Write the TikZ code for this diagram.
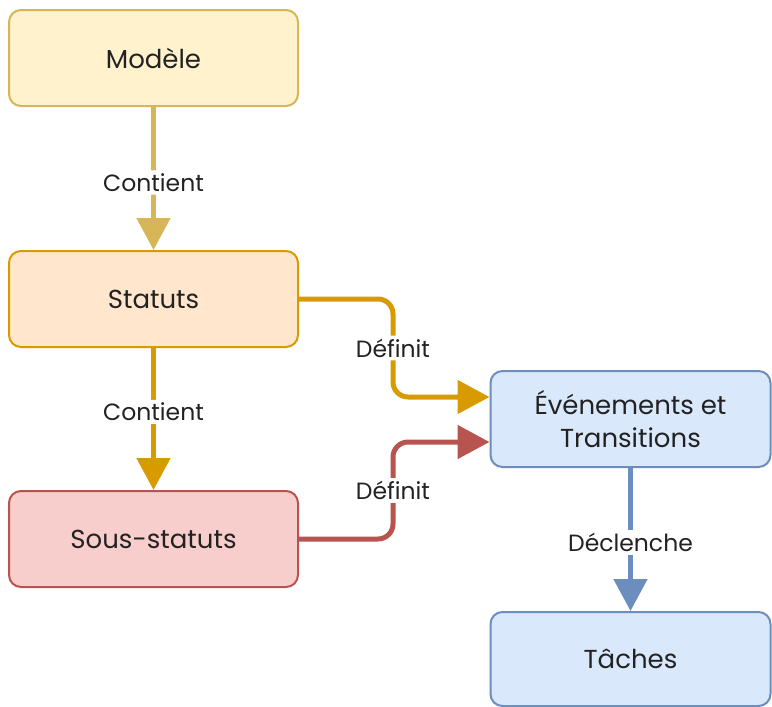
\documentclass[tikz,border=0pt]{standalone}
\usepackage{fontspec}
\setmainfont{Poppins}
\usetikzlibrary{arrows.meta}
\definecolor{yfill}{HTML}{FFF2CC}\definecolor{ystroke}{HTML}{D6B656}
\definecolor{ofill}{HTML}{FFE6CC}\definecolor{ostroke}{HTML}{D79B00}
\definecolor{rfill}{HTML}{F8CECC}\definecolor{rstroke}{HTML}{B85450}
\definecolor{bfill}{HTML}{DAE8FC}\definecolor{bstroke}{HTML}{6C8EBF}
\definecolor{txt}{HTML}{222222}
\tikzset{
  box/.style={rounded corners=12pt, line width=2pt, align=center, text=txt,
    font=\fontsize{26}{33}\selectfont, inner sep=0pt},
  conn/.style={line width=5pt, rounded corners=15pt,
    -{Triangle[length=32pt,width=33pt]}},
  lbl/.style={fill=white, text=txt, font=\fontsize{23.5}{26}\selectfont, inner sep=3pt}
}
\begin{document}
\begin{tikzpicture}[x=1pt,y=-1pt]
\useasboundingbox (0,0) rectangle (772,707);
\node[box, fill=yfill, draw=ystroke, minimum width=289pt, minimum height=96pt] (mod) at (153.5,58) {Modèle};
\node[box, fill=ofill, draw=ostroke, minimum width=289pt, minimum height=96pt] (stat) at (153.5,299) {Statuts};
\node[box, fill=rfill, draw=rstroke, minimum width=289pt, minimum height=96pt] (sous) at (153.5,539) {Sous-statuts};
\node[box, fill=bfill, draw=bstroke, minimum width=280pt, minimum height=96pt] (evt) at (630.5,419) {Événements et\\Transitions};
\node[box, fill=bfill, draw=bstroke, minimum width=280pt, minimum height=94pt] (tach) at (630.5,659) {Tâches};
\coordinate (bend) at (393,0);
\draw[conn, draw=ystroke] (mod) -- (stat) node[lbl, midway, yshift=-4pt] {Contient};
\draw[conn, draw=ostroke] (stat) -- (sous) node[lbl, pos=0.45] {Contient};
\draw[conn, draw=ostroke] (stat.east) -- (bend |- stat.east) -- (bend |- 0,397) node[lbl, pos=0.5] {Définit} -- (evt.west |- 0,397);
\draw[conn, draw=rstroke] (sous.east) -- (bend |- sous.east) -- (bend |- 0,442) node[lbl, pos=0.5] {Définit} -- (evt.west |- 0,442);
\draw[conn, draw=bstroke] (evt) -- (tach) node[lbl, midway, yshift=-3pt] {Déclenche};
\end{tikzpicture}
\end{document}
